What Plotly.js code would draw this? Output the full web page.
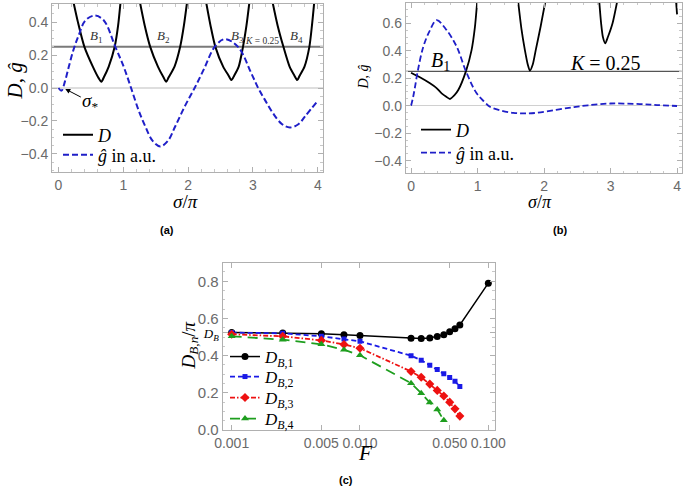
<!DOCTYPE html>
<html><head><meta charset="utf-8">
<script src="https://cdn.plot.ly/plotly-3.0.1.min.js"></script>
<style>html,body{margin:0;padding:0;background:#fff}#chart{width:685px;height:490px}</style>
</head><body><div id="chart"></div>
<script>
// ---------- Panel (a) ----------
const K_a = 0.25;
const aU1x = [0.232,0.30,0.40,0.53,0.62,0.662,0.70,0.775,0.867,0.92,0.957];
const aU1y = [0.52,0.40,0.25,0.13,0.06,0.038,0.065,0.13,0.25,0.38,0.52];
const aU2x = [1.257,1.33,1.415,1.534,1.62,1.662,1.70,1.79,1.877,1.935,1.983];
const aU2y = [0.52,0.38,0.25,0.13,0.065,0.038,0.065,0.13,0.25,0.38,0.52];
const aU3x = [2.278,2.345,2.42,2.54,2.625,2.668,2.71,2.78,2.846,2.90,2.945];
const aU3y = [0.52,0.38,0.25,0.13,0.075,0.048,0.075,0.13,0.25,0.38,0.52];
const aU4x = [3.303,3.38,3.47,3.565,3.64,3.683,3.72,3.795,3.87,3.91,3.945];
const aU4y = [0.52,0.38,0.25,0.13,0.075,0.048,0.075,0.13,0.25,0.38,0.52];
const aGx = [0,0.046,0.1,0.16,0.23,0.31,0.415,0.56,0.70,0.877,1.005,1.12,1.24,1.34,1.45,1.57,1.69,1.8,1.95,2.1,2.25,2.41,2.565,2.77,2.975,3.08,3.18,3.31,3.45,3.57,3.7,3.8,4.0];
const aGy = [0,-0.016,0.04,0.13,0.23,0.318,0.41,0.44,0.41,0.25,0.13,0.0,-0.14,-0.234,-0.32,-0.355,-0.32,-0.234,-0.11,0.0,0.12,0.25,0.297,0.25,0.089,0.0,-0.069,-0.154,-0.22,-0.24,-0.22,-0.174,-0.077];
const aLabels = ["<i>B</i><sub>1</sub>","<i>B</i><sub>2</sub>","<i>B</i><sub>3</sub>","<i>B</i><sub>4</sub>"];
const aLabelX = [0.58,1.62,2.76,3.67];
const aLabelY = [0.31,0.31,0.31,0.31];

// ---------- Panel (b) ----------
const K_b = 0.25;
const bS1x = [0,0.14,0.285,0.38,0.46,0.53,0.585,0.65,0.71,0.826,0.91,0.96,0.995];
const bS1y = [0.24,0.205,0.163,0.13,0.09,0.065,0.049,0.075,0.114,0.252,0.405,0.57,0.76];
const bS2x = [1.61,1.66,1.712,1.755,1.787,1.83,1.875,1.95,2.02];
const bS2y = [0.76,0.56,0.405,0.3,0.255,0.3,0.405,0.58,0.76];
const bS3x = [2.83,2.858,2.885,2.92,2.96,3.03,3.10];
const bS3y = [0.76,0.6,0.5,0.454,0.5,0.6,0.76];
const bS4x = [3.985,4.0];
const bS4y = [0.76,0.665];
const bGx = [0,0.03,0.06,0.1,0.185,0.285,0.385,0.535,0.686,0.826,0.986,1.1,1.186,1.35,1.537,1.71,1.886,2.18,2.45,2.66,3.0,3.44,3.7,4.0];
const bGy = [0,0.06,0.138,0.25,0.43,0.55,0.623,0.55,0.43,0.25,0.09,0.03,-0.007,-0.035,-0.052,-0.056,-0.052,-0.03,-0.01,0.003,0.016,0.012,0.005,-0.002];

// ---------- Panel (c) ----------
const F1 = [0.001,0.0025,0.005,0.0075,0.01,0.025,0.03,0.035,0.04,0.045,0.05,0.055,0.06,0.1];
const DB1 = [0.525,0.522,0.518,0.512,0.508,0.493,0.492,0.495,0.503,0.513,0.528,0.545,0.565,0.79];
const F2 = [0.001,0.0025,0.005,0.0075,0.01,0.025,0.03,0.035,0.04,0.045,0.05,0.055,0.06];
const DB2 = [0.524,0.52,0.504,0.49,0.477,0.4,0.375,0.348,0.326,0.302,0.282,0.262,0.234];
const F3 = [0.001,0.0025,0.005,0.0075,0.01,0.025,0.03,0.035,0.04,0.045,0.05,0.055,0.06];
const DB3 = [0.515,0.504,0.482,0.46,0.44,0.315,0.284,0.247,0.213,0.183,0.15,0.114,0.075];
const F4 = [0.001,0.0025,0.005,0.0075,0.01,0.025,0.03,0.035,0.04,0.045];
const DB4 = [0.504,0.486,0.461,0.432,0.402,0.252,0.198,0.148,0.111,0.052];
const DBvalue = 0.523;
const cXticks = [0.001,0.005,0.01,0.05,0.1];
const cXtickText = ["0.001","0.005","0.010","0.050","0.100"];

// ---------- helpers ----------
function joinSegs(segs){ const out=[]; segs.forEach((s,i)=>{ if(i) out.push(null); out.push(...s); }); return out; }
const serif = "Liberation Serif, DejaVu Serif, serif";
const sans = "Liberation Sans, Arial, sans-serif";
const tickFont = {family: sans, size: 14, color: "#6a6a6a"};
function frameAxis(extra){
  return Object.assign({
    showline:true, linecolor:"#b0b0b0", linewidth:1, mirror:"ticks",
    ticks:"inside", ticklen:5, tickwidth:1, tickcolor:"#b0b0b0",
    showgrid:false, zeroline:false, tickfont: tickFont,
    minor:{ticks:"inside", ticklen:2.5, tickcolor:"#c8c8c8", showgrid:false}
  }, extra);
}
function legendAt(px, py, size){
  return {x:px/685, y:1-py/490, xanchor:"left", yanchor:"middle", bgcolor:"rgba(0,0,0,0)",
    font:{family:serif, size:size, color:"#000"}, tracegroupgap:0};
}
function paperText(text, px, py, size, extra){
  return Object.assign({x:px/685, y:1-py/490, xref:"paper", yref:"paper", xanchor:"center", yanchor:"middle",
    text:text, showarrow:false, font:{family:serif, size:size, color:"#000"}}, extra||{});
}

const blueG = "#1f1fc8";
const traces = [
  {x: joinSegs([aU1x,aU2x,aU3x,aU4x]), y: joinSegs([aU1y,aU2y,aU3y,aU4y]), xaxis:"x", yaxis:"y",
   mode:"lines", line:{color:"#000", width:2, shape:"spline", smoothing:0.7}, connectgaps:false,
   name:"<i>D</i>", legend:"legend"},
  {x: aGx, y: aGy, xaxis:"x", yaxis:"y", mode:"lines",
   line:{color:blueG, width:2, dash:"6px,3px", shape:"spline", smoothing:1},
   name:"<i>ĝ</i> in a.u.", legend:"legend2"},
  {x: joinSegs([bS1x,bS2x,bS3x,bS4x]), y: joinSegs([bS1y,bS2y,bS3y,bS4y]), xaxis:"x2", yaxis:"y2",
   mode:"lines", line:{color:"#000", width:1.8, shape:"spline", smoothing:0.7}, connectgaps:false,
   name:"<i>D</i>", legend:"legend3"},
  {x: bGx, y: bGy, xaxis:"x2", yaxis:"y2", mode:"lines",
   line:{color:blueG, width:1.8, dash:"6px,3px", shape:"spline", smoothing:1},
   name:"<i>ĝ</i> in a.u.", legend:"legend4"},
  {x: F1, y: DB1, xaxis:"x3", yaxis:"y3", mode:"lines+markers",
   line:{color:"#000", width:1.5}, marker:{symbol:"circle", size:7, color:"#000"},
   name:"<i>D</i><sub><i>B</i>,1</sub>", legend:"legend5"},
  {x: F2, y: DB2, xaxis:"x3", yaxis:"y3", mode:"lines+markers",
   line:{color:"#1a1ae6", width:1.8, dash:"5px,3px"}, marker:{symbol:"square", size:5, color:"#1a1ae6"},
   name:"<i>D</i><sub><i>B</i>,2</sub>", legend:"legend6"},
  {x: F3, y: DB3, xaxis:"x3", yaxis:"y3", mode:"lines+markers",
   line:{color:"#ee1111", width:1.8, dash:"5px,2px,1.5px,2px"}, marker:{symbol:"diamond", size:7, color:"#ee1111"},
   name:"<i>D</i><sub><i>B</i>,3</sub>", legend:"legend7"},
  {x: F4, y: DB4, xaxis:"x3", yaxis:"y3", mode:"lines+markers",
   line:{color:"#1e9e1e", width:1.8, dash:"10px,6px"}, marker:{symbol:"triangle-up", size:7, color:"#1e9e1e"},
   name:"<i>D</i><sub><i>B</i>,4</sub>", legend:"legend8"}
];

const annotations = [];
aLabels.forEach((t,i)=>annotations.push({x:aLabelX[i], y:aLabelY[i], xref:"x", yref:"y", text:t, showarrow:false,
  font:{family:serif, size:13, color:"#333"}}));
annotations.push({x:3.14, y:0.283, xref:"x", yref:"y", text:"<i>K</i> = 0.25", showarrow:false,
  font:{family:serif, size:9.5, color:"#333"}});
annotations.push({x:0.105, y:-0.006, xref:"x", yref:"y", ax:25, ay:13,
  text:"<i>σ</i><sub>*</sub>", showarrow:true, arrowhead:2, arrowsize:1, arrowwidth:1, arrowcolor:"#000",
  font:{family:serif, size:19, color:"#000"}});
annotations.push({x:0.44, y:0.325, xref:"x2", yref:"y2", text:"<i>B</i><sub>1</sub>", showarrow:false,
  font:{family:serif, size:20, color:"#000"}});
annotations.push({x:2.93, y:0.31, xref:"x2", yref:"y2", text:"<i>K</i> = 0.25", showarrow:false,
  font:{family:serif, size:20, color:"#000"}});
// axis titles
annotations.push(paperText("<i>D</i>, <i>ĝ</i>", 14.5, 81, 21, {textangle:-90}));
annotations.push(paperText("<i>σ</i>/<i>π</i>", 185, 201, 19));
annotations.push(paperText("<i>D</i>, <i>ĝ</i>", 363, 77.5, 14, {textangle:-90}));
annotations.push(paperText("<i>σ</i>/<i>π</i>", 540, 202, 18));
annotations.push(paperText("<i>D</i><sub><i>B</i>,<i>n</i></sub>/<i>π</i>", 189.5, 345, 19, {textangle:-90}));
annotations.push(paperText("<i>F</i>", 365, 453, 21));
// captions
[["(a)",167,230],["(b)",560,230],["(c)",346,480]].forEach(c=>annotations.push(
  paperText("<b>"+c[0]+"</b>", c[1], c[2], 11, {font:{family:sans, size:11, color:"#000"}})));

const layout = {
  width:685, height:490, margin:{l:0,r:0,t:0,b:0}, paper_bgcolor:"#fff", plot_bgcolor:"#fff",
  showlegend:true,
  xaxis: frameAxis({domain:[0.0759,0.4715], range:[-0.1,4.08], anchor:"y", dtick:1, tick0:0, minor:{ticks:"inside", ticklen:2.5, tickcolor:"#c8c8c8", dtick:0.2, showgrid:false}}),
  yaxis: frameAxis({domain:[0.649,0.9918], range:[-0.51,0.51], anchor:"x", dtick:0.2, tick0:0, tickformat:".1f",
    zeroline:true, zerolinecolor:"#dedede", zerolinewidth:1.5, minor:{ticks:"inside", ticklen:2.5, tickcolor:"#c8c8c8", dtick:0.05, showgrid:false}}),
  xaxis2: frameAxis({domain:[0.5923,0.9952], range:[-0.08,4.07], anchor:"y2", dtick:1, tick0:0, minor:{ticks:"inside", ticklen:2.5, tickcolor:"#c8c8c8", dtick:0.2, showgrid:false}}),
  yaxis2: frameAxis({domain:[0.6469,0.9945], range:[-0.49,0.75], anchor:"x2", dtick:0.2, tick0:0, tickformat:".1f",
    zeroline:true, zerolinecolor:"#d0d0d0", zerolinewidth:1.2, minor:{ticks:"inside", ticklen:2.5, tickcolor:"#c8c8c8", dtick:0.05, showgrid:false}}),
  xaxis3: frameAxis({domain:[0.3251,0.7226], type:"log", range:[-3.07,-0.948], anchor:"y3", tickangle:0,
    tickvals:cXticks, ticktext:cXtickText, tickfont:{family:sans, size:14, color:"#6a6a6a"}, minor:{ticks:""}}),
  yaxis3: frameAxis({domain:[0.1224,0.4639], range:[0,0.9], anchor:"x3",
    tickvals:[0,0.2,0.4,DBvalue,0.6,0.8],
    ticktext:["0.0","0.2","0.4","<span style=\"font-family:Liberation Serif;color:#000;font-size:13px\"><i>D</i><sub><i>B</i></sub></span>","0.6","0.8"],
    tickfont:{family:sans, size:15, color:"#6a6a6a"}, minor:{ticks:"inside", ticklen:2.5, tickcolor:"#c8c8c8", dtick:0.05, showgrid:false}}),
  shapes: [
    {type:"line", xref:"x domain", yref:"y", x0:0, x1:1, y0:K_a, y1:K_a, line:{color:"#7a7a7a", width:2}, layer:"below"},
    {type:"line", xref:"x2 domain", yref:"y2", x0:0, x1:1, y0:K_b, y1:K_b, line:{color:"#555", width:1.2}, layer:"below"}
  ],
  legend: legendAt(58, 135, 18),
  legend2: legendAt(58, 155, 18),
  legend3: legendAt(416, 130, 18),
  legend4: legendAt(416, 153, 18),
  legend5: legendAt(225, 357, 17),
  legend6: legendAt(225, 377, 17),
  legend7: legendAt(225, 398, 17),
  legend8: legendAt(225, 419, 17),
  annotations: annotations
};
Plotly.newPlot("chart", traces, layout, {displayModeBar:false, staticPlot:true});
</script></body></html>
